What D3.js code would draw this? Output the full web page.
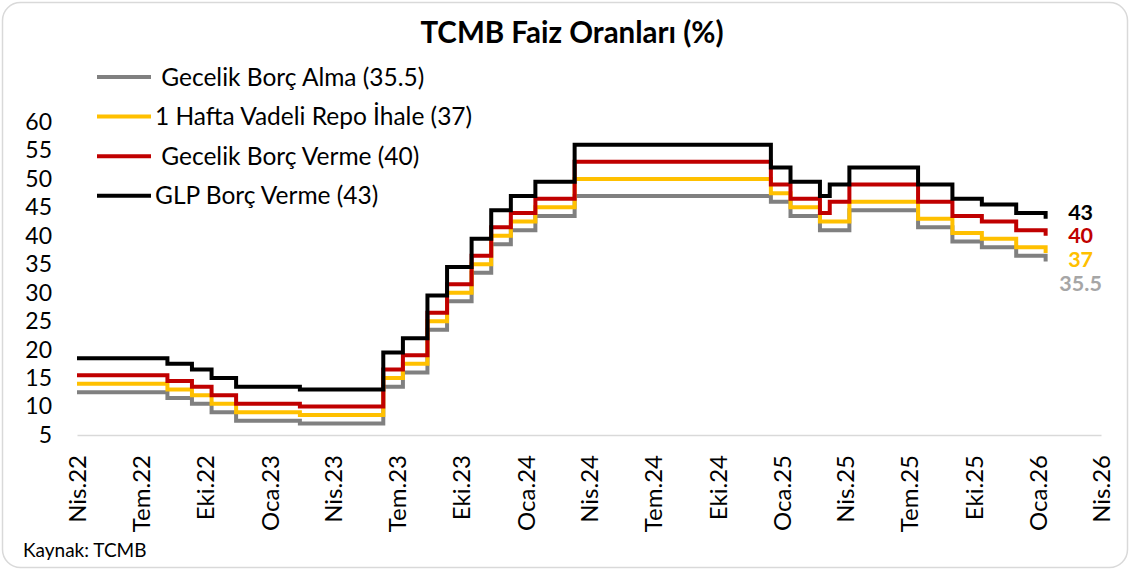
<!DOCTYPE html>
<html>
  <head>
    <meta http-equiv="Content-Type" content="text/html; charset=utf-8" />
    <style>
    body {
      margin: 0;
      background: #fff;
    }
    svg text {
      font-family: Lato, "Open Sans", sans-serif;
    }
    .tick line {
      display: none;
    }
    </style>
  </head>
  <body>
    <div id="chart"></div>
    <script src="https://d3js.org/d3.v7.min.js"></script>
    <script>

// decision dates (first point = axis start)
var dates = [
  "2022-04-11", "2022-08-18", "2022-09-22", "2022-10-20", "2022-11-24",
  "2023-02-23", "2023-06-22", "2023-07-20", "2023-08-24", "2023-09-21",
  "2023-10-26", "2023-11-23", "2023-12-21", "2024-01-25", "2024-03-21",
  "2024-12-26", "2025-01-23", "2025-03-06", "2025-03-20", "2025-04-17",
  "2025-07-24", "2025-09-11", "2025-10-23", "2025-12-11", "2026-01-22"
];

var borcAlma   = [12.5, 11.5, 10.5, 9, 7.5, 7, 13.5, 16, 23.5, 28.5, 33.5, 38.5, 41, 43.5, 47, 46, 43.5, 41, 41, 44.5, 41.5, 39, 38, 36.5, 35.5];
var repo       = [14, 13, 12, 10.5, 9, 8.5, 15, 17.5, 25, 30, 35, 40, 42.5, 45, 50, 47.5, 45, 42.5, 42.5, 46, 43, 40.5, 39.5, 38, 37];
var borcVerme  = [15.5, 14.5, 13.5, 12, 10.5, 10, 16.5, 19, 26.5, 31.5, 36.5, 41.5, 44, 46.5, 53, 49, 46.5, 44, 46, 49, 46, 43.5, 42.5, 41, 40];
var glpVerme   = [18.5, 17.5, 16.5, 15, 13.5, 13, 19.5, 22, 29.5, 34.5, 39.5, 44.5, 47, 49.5, 56, 52, 49.5, 47, 49, 52, 49, 46.5, 45.5, 44, 43];

var seriesNames = [" Gecelik Borç Alma (35.5)", "1 Hafta Vadeli Repo İhale (37)", " Gecelik Borç Verme (40)", "GLP Borç Verme (43)"];
var endLabels = ["35.5", "37", "40", "43"];
var monthNames = ["Oca", "Şub", "Mar", "Nis", "May", "Haz", "Tem", "Ağu", "Eyl", "Eki", "Kas", "Ara"];
var yTicks = [5, 10, 15, 20, 25, 30, 35, 40, 45, 50, 55, 60];

var colors = ["#808080", "#FFC000", "#C00000", "#000000"];
var labelColors = ["#A6A6A6", "#FFC000", "#C00000", "#000000"];
var labelShift = [22, 7, 0, -6];

var width = 1130, height = 570;
var parse = d3.timeParse("%Y-%m-%d");
var axisStart = parse("2022-04-11"), axisEnd = parse("2026-04-11");

var svg = d3.select("#chart").append("svg")
    .attr("width", width)
    .attr("height", height);

svg.append("rect")
    .attr("x", 2.5).attr("y", 2.5)
    .attr("width", width - 5).attr("height", height - 5)
    .attr("rx", 18)
    .style("fill", "#fff")
    .style("stroke", "#d9d9d9")
    .style("stroke-width", 1.5);

var x = d3.scaleTime()
    .domain([axisStart, axisEnd])
    .range([77, 1101]);

var y = d3.scaleLinear()
    .domain([5, 60])
    .range([435, 122]);

svg.append("text")
    .attr("x", 572).attr("y", 43)
    .attr("text-anchor", "middle")
    .style("font-weight", "bold")
    .style("font-size", "29.5px")
    .text("TCMB Faiz Oranları (%)");

// x axis
var xTicks = d3.range(17).map(function(i){ return d3.timeMonth.offset(axisStart, 3 * i); });
var xAxis = svg.append("g")
    .attr("transform", "translate(0," + y(5) + ")")
    .call(d3.axisBottom(x)
      .tickValues(xTicks)
      .tickSize(0)
      .tickFormat(function(d){ return monthNames[d.getMonth()] + "." + d3.timeFormat("%y")(d); }));
xAxis.select(".domain").style("stroke", "#d9d9d9").style("stroke-width", 1.5);
xAxis.selectAll("text")
    .attr("transform", "rotate(-90)")
    .attr("text-anchor", "end")
    .attr("x", -20)
    .attr("y", 0)
    .attr("dy", "0.36em")
    .style("font-size", "24px")
    .style("fill", "#000")
    .style("font-family", "Lato, sans-serif");

// y axis
var yAxis = svg.append("g")
    .attr("transform", "translate(77,0)")
    .call(d3.axisLeft(y).tickValues(yTicks).tickSize(0).tickPadding(25));
yAxis.select(".domain").remove();
yAxis.selectAll("text")
    .style("font-size", "23px")
    .style("fill", "#000")
    .style("font-family", "Lato, sans-serif");

var allSeries = [borcAlma, repo, borcVerme, glpVerme];

var line = d3.line()
    .x(function(d){ return x(d.date); })
    .y(function(d){ return y(d.value); })
    .curve(d3.curveStepAfter);

allSeries.forEach(function(values, i){
  var pts = values.map(function(v, j){ return {date: parse(dates[j]), value: v}; });
  svg.append("path")
      .datum(pts)
      .attr("d", line)
      .style("fill", "none")
      .style("stroke", colors[i])
      .style("stroke-width", 4)
      .style("stroke-linejoin", "miter");

  var last = pts[pts.length - 1];
  svg.append("text")
      .attr("x", x(last.date) + 35)
      .attr("y", y(last.value) + labelShift[i])
      .attr("dy", "0.35em")
      .attr("text-anchor", "middle")
      .style("font-weight", "bold")
      .style("font-size", "21.5px")
      .style("fill", labelColors[i])
      .text(endLabels[i]);
});

// legend
var legend = svg.append("g");
seriesNames.forEach(function(name, i){
  var ly = 77 + i * 39.6;
  legend.append("line")
      .attr("x1", 97).attr("x2", 151)
      .attr("y1", ly).attr("y2", ly)
      .style("stroke", colors[i])
      .style("stroke-width", 4);
  legend.append("text")
      .attr("x", 155).attr("y", ly)
      .attr("dy", "0.35em")
      .style("white-space", "pre")
      .style("font-size", "24.5px")
      .text(name);
});

svg.append("text")
    .attr("x", 23).attr("y", 557)
    .style("font-size", "19px")
    .text("Kaynak: TCMB");

    </script>
  </body>
</html>
